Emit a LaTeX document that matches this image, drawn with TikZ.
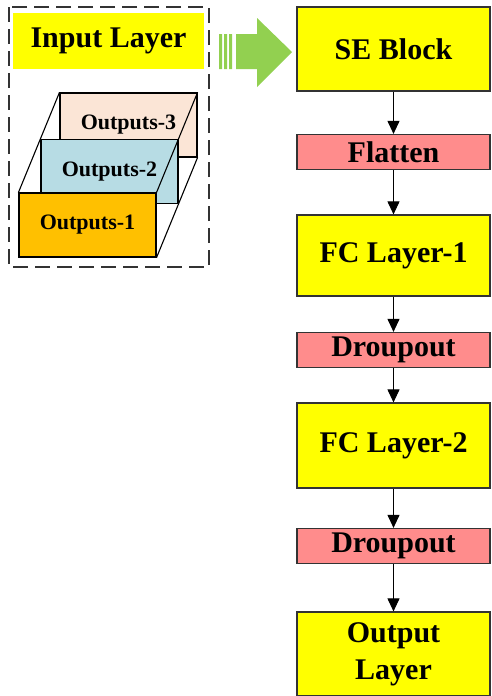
\documentclass[tikz,border=0pt]{standalone}
\usepackage{fontspec}
\setmainfont{Liberation Serif}
\usepackage{xcolor}
\usetikzlibrary{arrows.meta, positioning}

\definecolor{layeryellow}{HTML}{FFFF00}
\definecolor{droppink}{HTML}{FF8C8C}
\definecolor{flowgreen}{HTML}{92D050}
\definecolor{outone}{HTML}{FFC000}
\definecolor{outtwo}{HTML}{B7DCE4}
\definecolor{outthree}{HTML}{FBE5D6}
\definecolor{edgegray}{HTML}{333333}

\begin{document}
\begin{tikzpicture}[x=1pt,y=-1pt,semithick,font=\bfseries\fontsize{30}{37}\selectfont]
        \tikzstyle{layer}=[draw=edgegray,line width=1.2pt,fill=layeryellow,minimum width=193pt,inner sep=0pt,align=center]
        \tikzstyle{droplayer}=[layer,fill=droppink,minimum height=35pt]
        \tikzstyle{outbox}=[draw=black,line width=1.1pt,minimum width=137pt,minimum height=64pt,inner sep=0pt,font=\bfseries\fontsize{22}{26}\selectfont]
        \tikzstyle{flow}=[-{Triangle[width=12pt,length=13pt]},line width=1pt,black]

        \useasboundingbox (0,0) rectangle (491,696);

        % input part
        \draw[edgegray,line width=1.3pt,dash pattern=on 15pt off 7pt] (9,7) rectangle (209,267);
        \node[fill=layeryellow,minimum width=191pt,minimum height=56pt,inner sep=0pt] (in) at (108.5,41) {Input Layer};

        \node[outbox,fill=outthree] (o3) at (128.5,125) {Outputs-3};
        \node[outbox,fill=outtwo]   (o2) at (109.5,171.5) {Outputs-2};
        \node[outbox,fill=outone]   (o1) at (87.5,225) {Outputs-1};
        \draw[line width=1.1pt] (o1.north west) -- (o3.north west)
                    (o1.north east) -- (o3.north east)
                    (o1.south east) -- (o3.south east);

        % big green arrow
        \fill[flowgreen] (219,34) rectangle (222,69)
                         (224,34) rectangle (227,69)
                         (229,34) rectangle (232,69);
        \fill[flowgreen] (236,34) -- (257,34) -- (257,18) -- (292,52) -- (257,87) -- (257,69) -- (236,69) -- cycle;

        % network
        \node[layer,minimum height=84pt] (se)    at (393.5,49)    {SE Block};
        \node[droplayer]                 (flat)  at (393.5,152)   {Flatten};
        \node[layer,minimum height=81pt] (fc1)   at (393.5,255.5) {FC Layer-1};
        \node[droplayer]                 (drop1) at (393.5,350)   {Droupout};
        \node[layer,minimum height=85pt] (fc2)   at (393.5,445.5) {FC Layer-2};
        \node[droplayer]                 (drop2) at (393.5,546)   {Droupout};
        \node[layer,minimum height=84pt] (out)   at (393.5,654)   {Output\\Layer};

        \draw[flow] (se) -- (flat);
        \draw[flow] (flat) -- (fc1);
        \draw[flow] (fc1) -- (drop1);
        \draw[flow] (drop1) -- (fc2);
        \draw[flow] (fc2) -- (drop2);
        \draw[flow] (drop2) -- (out);
    \end{tikzpicture}
\end{document}
